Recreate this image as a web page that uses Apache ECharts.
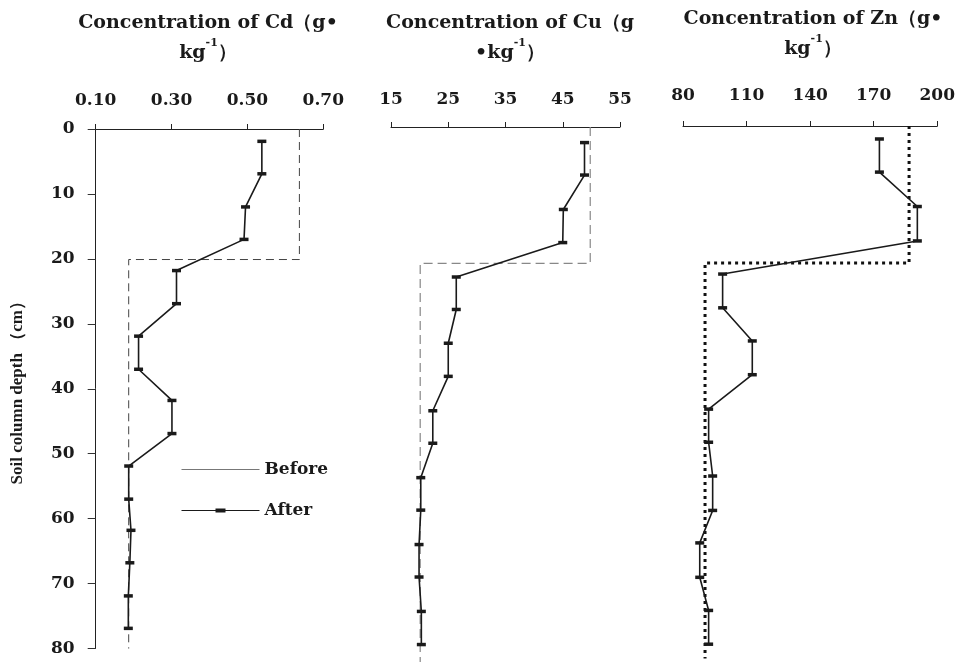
<!DOCTYPE html>
<html><head><meta charset="utf-8">
<script src="https://cdn.jsdelivr.net/npm/echarts@6/dist/echarts.min.js"></script>
<style>html,body{margin:0;padding:0;background:#fff}#c{width:958px;height:663px}</style>
</head><body><div id="c"></div>
<script>
// ---- Data ----
// Cd panel
const cdDepth = [1.9, 6.9, 12.0, 17.0, 21.8, 26.9, 31.9, 37.0, 41.8, 46.9, 51.9, 57.0, 61.8, 66.8, 71.9, 76.9];
const cdAfter = [0.538, 0.538, 0.495, 0.491, 0.313, 0.313, 0.213, 0.213, 0.301, 0.301, 0.187, 0.187, 0.193, 0.190, 0.186, 0.186];
const cdBeforeX = [0.637, 0.637, 0.187, 0.187];
const cdBeforeDepth = [0, 20.1, 20.1, 80];
// Cu panel
const cuDepth = [2.4, 7.4, 12.7, 17.8, 23.1, 28.1, 33.3, 38.4, 43.7, 48.7, 54.0, 59.0, 64.3, 69.3, 74.6, 79.7];
const cuAfter = [48.8, 48.8, 45.1, 45.0, 26.4, 26.4, 25.0, 25.0, 22.3, 22.3, 20.2, 20.2, 19.9, 19.9, 20.3, 20.3];
const cuBeforeX = [49.8, 49.8, 20.1, 20.1];
const cuBeforeDepth = [0, 21.0, 21.0, 82.4];
// Zn panel
const znDepth = [2.0, 7.1, 12.4, 17.7, 22.8, 28.0, 33.1, 38.3, 43.6, 48.7, 53.9, 59.2, 64.2, 69.5, 74.6, 79.8];
const znAfter = [172.7, 172.7, 190.6, 190.6, 98.7, 98.7, 112.7, 112.7, 92.1, 92.1, 94.0, 94.0, 87.9, 87.9, 92.1, 92.1];
const znBeforeX = [186.7, 186.7, 90.4, 90.4];
const znBeforeDepth = [0, 21.1, 21.1, 82.0];
// Axis ranges / ticks
const cdTicks = {min: 0.10, max: 0.70, interval: 0.20};
const cuTicks = {min: 15, max: 55, interval: 10};
const znTicks = {min: 80, max: 200, interval: 30};
const depthTicks = {min: 0, max: 80, interval: 10};
const titles = ['Concentration of Cd（g•\nkg{s|-1}）', 'Concentration of Cu（g\n•kg{s|-1}）', 'Concentration of Zn（g•\nkg{s|-1}）'];
const yTitle = 'Soil column depth （cm）';
const legendNames = ['Before', 'After'];

// ---- Chart ----
const SERIF = '"DejaVu Serif", "Liberation Serif", serif';
const INK = '#1a1a1a';
function pairs(xs, ys) { return xs.map((x, i) => [x, ys[i]]); }

function xAx(gi, t, fmt, margin) {
  return {
    type: 'value', gridIndex: gi, position: 'top', min: t.min, max: t.max, interval: t.interval,
    axisLine: {show: true, lineStyle: {color: '#222', width: 1}},
    axisTick: {show: true, length: 5, lineStyle: {color: '#222', width: 1}},
    splitLine: {show: false},
    axisLabel: {margin: margin, color: INK, fontFamily: SERIF, fontWeight: 'bold', fontSize: 17, formatter: fmt}
  };
}
function yAx(gi, show) {
  const a = {
    type: 'value', gridIndex: gi, inverse: true, min: depthTicks.min, max: depthTicks.max, interval: depthTicks.interval,
    show: show, splitLine: {show: false},
    axisLine: {show: true, lineStyle: {color: '#222', width: 1}},
    axisTick: {show: true, length: 8, lineStyle: {color: '#333', width: 1}},
    axisLabel: {margin: 21, color: INK, fontFamily: SERIF, fontWeight: 'bold', fontSize: 17}
  };
  if (show) {
    a.name = yTitle; a.nameLocation = 'middle'; a.nameGap = 70;
    a.nameTextStyle = {fontFamily: '"Liberation Serif", serif', fontWeight: 'bold', fontSize: 17, color: INK};
  }
  return a;
}
function afterSeries(gi, xs, ys) {
  return {
    name: legendNames[1], type: 'line', xAxisIndex: gi, yAxisIndex: gi, data: pairs(xs, ys),
    symbol: 'rect', symbolSize: [9, 3.5], showSymbol: true, clip: false, z: 3,
    lineStyle: {color: INK, width: 1.6}, itemStyle: {color: INK}
  };
}
function beforeSeries(gi, xs, ys, ls) {
  return {
    name: legendNames[0], type: 'line', xAxisIndex: gi, yAxisIndex: gi, data: pairs(xs, ys),
    symbol: 'none', clip: false, z: 2, lineStyle: ls, itemStyle: {color: ls.color}
  };
}

const chart = echarts.init(document.getElementById('c'), null, {renderer: 'canvas'});
const titleStyle = (x, y, text) => ({
  type: 'text', x: x, y: y,
  style: {
    text: text, fill: INK, font: 'bold 19px ' + SERIF, textAlign: 'center', textVerticalAlign: 'top', lineHeight: 30,
    rich: {s: {fontSize: 11, fontWeight: 'bold', fontFamily: SERIF, verticalAlign: 'top', lineHeight: 20, fill: INK}}
  }
});
chart.setOption({
  animation: false,
  backgroundColor: '#fff',
  grid: [
    {left: 95.7, top: 129, width: 227.6, height: 519.5},
    {left: 391, top: 127, width: 229, height: 519.5},
    {left: 683, top: 126, width: 258, height: 519.5}
  ],
  xAxis: [
    xAx(0, cdTicks, v => v.toFixed(2), 20),
    xAx(1, cuTicks, v => String(v), 19),
    xAx(2, znTicks, v => String(v), 22)
  ],
  yAxis: [yAx(0, true), yAx(1, false), yAx(2, false)],
  legend: {
    orient: 'vertical', left: 176, top: 456, itemWidth: 78, itemHeight: 4, itemGap: 24, selectedMode: false,
    textStyle: {fontFamily: SERIF, fontWeight: 'bold', fontSize: 17, color: INK},
    data: [
      {name: legendNames[0], lineStyle: {type: 'solid', color: '#777', width: 1}, itemStyle: {color: 'rgba(0,0,0,0)', opacity: 0, borderWidth: 0}},
      {name: legendNames[1], icon: 'path://M0,1.4H34V0H44V1.4H78V2.6H44V4H34V2.6H0Z', itemStyle: {color: INK, borderWidth: 0}}
    ]
  },
  graphic: [
    titleStyle(208, 8, titles[0]),
    titleStyle(510, 8, titles[1]),
    titleStyle(813, 4, titles[2])
  ],
  series: [
    beforeSeries(0, cdBeforeX, cdBeforeDepth, {color: '#444', width: 1, type: [8, 5]}),
    afterSeries(0, cdAfter, cdDepth),
    beforeSeries(1, cuBeforeX, cuBeforeDepth, {color: '#888', width: 1.2, type: [9, 5]}),
    afterSeries(1, cuAfter, cuDepth),
    beforeSeries(2, znBeforeX, znBeforeDepth, {color: '#111', width: 3, type: [3, 4]}),
    afterSeries(2, znAfter, znDepth)
  ]
});
</script>
</body></html>
